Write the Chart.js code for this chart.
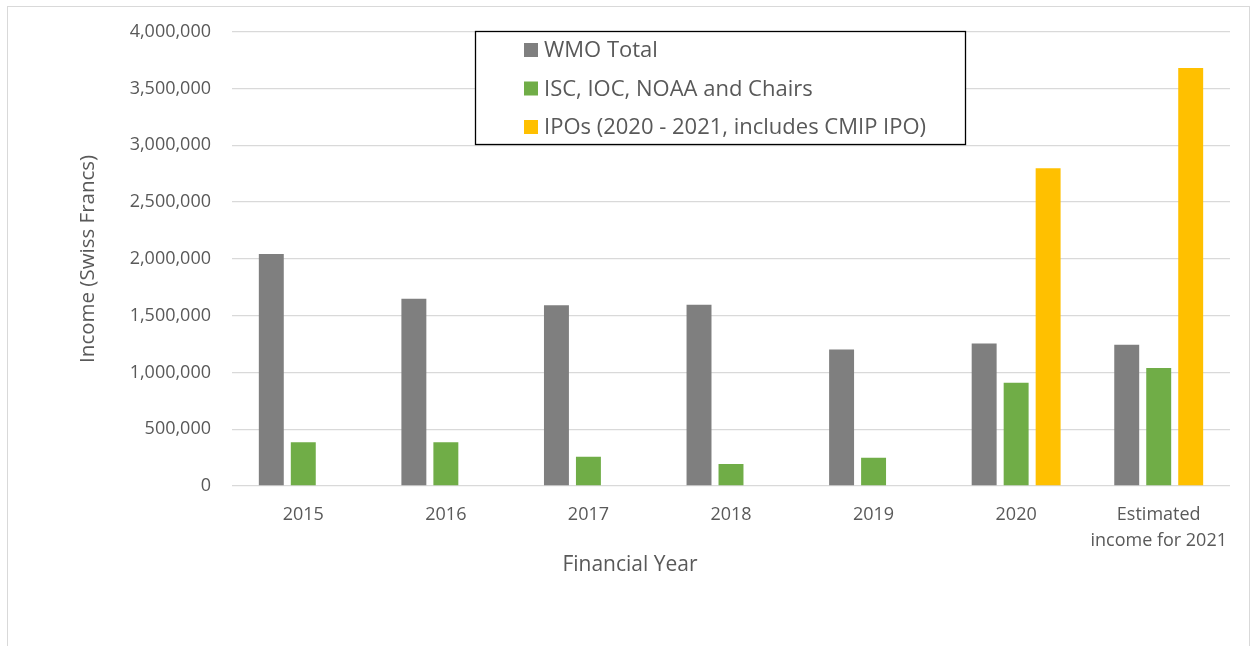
<!DOCTYPE html>
<html>
<head>
<meta charset="utf-8">
<script src="https://cdn.jsdelivr.net/npm/chart.js@4"></script>
<style>
  body { margin: 0; background: #fff; }
  #wrap { position: relative; width: 1250px; height: 646px; overflow: hidden; }
  #frame { position: absolute; left: 7px; top: 6px; width: 1243px; height: 700px;
           border: 1px solid #d9d9d9; box-sizing: border-box; }
  #box { position: absolute; left: 0; top: 0; width: 1250px; height: 646px; }
</style>
</head>
<body>
<div id="wrap">
  <div id="frame"></div>
  <div id="box"><canvas id="incomeChart"></canvas></div>
</div>
<script>
// data
const years = ['2015', '2016', '2017', '2018', '2019', '2020', ['Estimated', 'income for 2021']];
const wmoTotal = [2043000, 1649000, 1591000, 1596000, 1202000, 1254000, 1243000];
const iscIocNoaa = [385000, 385000, 257000, 193000, 248000, 910000, 1039000];
const ipos = [null, null, null, null, null, 2799000, 3682000];
const seriesNames = ['WMO Total', 'ISC, IOC, NOAA and Chairs', 'IPOs (2020 - 2021, includes CMIP IPO)'];
const xTitle = 'Financial Year';
const yTitle = 'Income (Swiss Francs)';

const txt = '#595959';
const fam = "'Open Sans', 'Noto Sans', sans-serif";

// legend drawn as a boxed panel inside the plot, like the original
// the x title is centred on the whole picture, not on the plot, so it is drawn here too
const boxLegend = {
  id: 'boxLegend',
  afterDraw(chart) {
    const ctx = chart.ctx;
    const x0 = 475, y0 = 31, w = 490, h = 113;
    ctx.save();
    ctx.fillStyle = '#fff';
    ctx.fillRect(x0, y0, w, h);
    ctx.strokeStyle = '#000';
    ctx.lineWidth = 1.3;
    ctx.strokeRect(x0 + 0.5, y0 + 0.5, w, h);
    ctx.font = '22px ' + fam;
    ctx.textBaseline = 'middle';
    chart.data.datasets.forEach((ds, i) => {
      const cy = 50 + i * 38.5;
      ctx.fillStyle = ds.backgroundColor;
      ctx.fillRect(524, cy - 7, 14, 14);
      ctx.fillStyle = txt;
      ctx.fillText(ds.label, 544, cy + 1);
    });

    ctx.font = '21px ' + fam;
    ctx.textAlign = 'center';
    ctx.fillStyle = txt;
    ctx.fillText(xTitle, 630, 565);
    ctx.restore();
  }
};

document.addEventListener('DOMContentLoaded', function() {
  const common = { categoryPercentage: 0.673, barPercentage: 0.78 };
  new Chart(document.getElementById('incomeChart').getContext('2d'), {
    type: 'bar',
    data: {
      labels: years,
      datasets: [
        { label: seriesNames[0], data: wmoTotal, backgroundColor: '#7f7f7f', ...common },
        { label: seriesNames[1], data: iscIocNoaa, backgroundColor: '#70ad47', ...common },
        { label: seriesNames[2], data: ipos, backgroundColor: '#ffc000', ...common }
      ]
    },
    options: {
      responsive: true,
      maintainAspectRatio: false,
      animation: false,
      layout: { padding: { left: 0, right: 20, top: 27, bottom: 0 } },
      plugins: { legend: { display: false }, tooltip: { enabled: false } },
      scales: {
        x: {
          grid: { display: false, drawTicks: false },
          border: { display: false },
          ticks: { color: txt, font: { family: fam, size: 18, lineHeight: 1.45 }, padding: 16, maxRotation: 0 },
          afterFit(scale) { scale.height = 160; }
        },
        y: {
          min: 0, max: 4000000,
          grid: { color: '#d9d9d9', lineWidth: 1.3, drawTicks: false },
          border: { display: false },
          ticks: {
            stepSize: 500000, color: txt, padding: 21,
            font: { family: fam, size: 18 },
            callback: v => v.toLocaleString('en-US')
          },
          title: { display: true, text: yTitle, color: txt,
                   font: { family: fam, size: 20.5, lineHeight: 1.2 }, padding: { top: 76, bottom: 0 } },
          afterFit(scale) { scale.width = 232; }
        }
      }
    },
    plugins: [boxLegend]
  });
});
</script>
</body>
</html>
